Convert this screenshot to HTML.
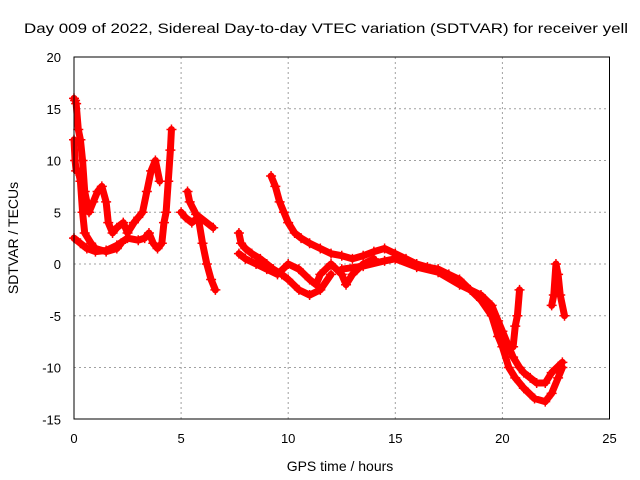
<!DOCTYPE html>
<html><head><meta charset="utf-8"><style>
html,body{margin:0;padding:0;background:#fff;}
svg{display:block;font-family:"Liberation Sans",sans-serif;}
</style></head><body>
<svg id="chart" width="640" height="480">
<rect width="640" height="480" fill="#fff"/>
<text x="24" y="33" font-size="14" textLength="604" lengthAdjust="spacingAndGlyphs">Day 009 of 2022, Sidereal Day-to-day VTEC variation (SDTVAR) for receiver yell</text>
<g id="grid"></g>
<g id="marks"></g>
<rect x="74" y="57" width="535.5" height="362" fill="none" stroke="#000" stroke-width="1"/>
<g id="ticks"></g>
<text x="340" y="471" font-size="14" text-anchor="middle">GPS time / hours</text>
<text transform="translate(18,238) rotate(-90)" font-size="14" text-anchor="middle">SDTVAR / TECUs</text>
</svg>
<script>
const xTicks=[0,5,10,15,20,25];
const yTicks=[20,15,10,5,0,-5,-10,-15];
const segT1=[0,0.05,0.1,0.2,0.3,0.4,0.5,0.7,0.9,1.1,1.3,1.5,1.6,1.8,2.0,2.3,2.5,2.8,3.0,3.2,3.4,3.6,3.8,4.0];
const segV1=[16,15.8,15.5,13,12,10,7,5,6,7,7.5,6,4,3,3.5,4,3,4,4.5,5,7,9,10,8];
const segT2=[0,0.05,0.1,0.2,0.3,0.4,0.5,0.8,1.0,1.5,2.0,2.2];
const segV2=[12,10,9,9,8,5,3,2,1.5,1.2,1.5,2];
const segT3=[0,0.3,0.6,1.0,1.5,2.0,2.5,3.0,3.3,3.5,3.7,3.9,4.1,4.2,4.3,4.4,4.5,4.55];
const segV3=[2.5,2,1.5,1.2,1.3,1.8,2.5,2.3,2.5,3,2,1.5,2,4,5,8,11,13];
const segT4=[5.0,5.2,5.5,5.8,6.0,6.2,6.4,6.6];
const segV4=[5,4.5,4,4.5,2,0,-1.5,-2.5];
const segT5=[5.3,5.4,5.7,6.5];
const segV5=[7,6,4.8,3.5];
const segT6=[7.7,7.8,8.0,8.3,8.7,9.0,9.3,9.7,10.0,10.5,11.0,11.5,12.0];
const segV6=[3,2,1.5,1,0.5,0,-0.5,-1,-1.5,-2.5,-3,-2.5,-1];
const segT7=[7.7,8.0,8.5,9.0,9.5,10.0,10.5,11.0,11.3,11.5,12.0,12.5,12.7,13.0,13.5,14.0];
const segV7=[1,0.5,0,-0.5,-1,0,-0.5,-1.5,-2,-1,0,-1,-2,-1,0,0.5];
const segT8=[9.2,9.4,9.6,9.8,10.0,10.3,10.6,11.0,11.5,12.0,12.5,13.0,13.5,14.0,14.5,15.0,15.5,16.0,16.5,17.0,17.5,18.0,18.5,19.0,19.5,19.8,20.0,20.3,20.6,21.0,21.5,22.0,22.3,22.6,22.8];
const segV8=[8.5,7.5,6,5,4,3,2.5,2,1.5,1,0.8,0.5,0.8,1.2,1.5,1,0.5,0,-0.3,-0.5,-1,-1.5,-2.5,-3.5,-5,-7,-8,-10,-11,-12,-13,-13.3,-12.5,-11,-10];
const segT9=[12.5,13.5,14.5,15.0,16.0,17.0,18.0,19.0,19.5,19.8,20.0,20.3,20.5,20.8,21.0,21.3,21.6,22.0,22.3,22.8];
const segV9=[-0.5,-0.2,0.3,0.5,-0.3,-0.8,-2,-3,-4,-5.5,-6.5,-8,-9,-10,-10.5,-11,-11.5,-11.5,-10.5,-9.5];
const segT10=[20.5,20.6,20.7,20.8];
const segV10=[-8,-6,-5,-2.5];
const segT11=[22.3,22.4,22.5,22.6,22.7,22.9];
const segV11=[-4,-3,0,-1,-3,-5];
const segs=[[segT1,segV1],[segT2,segV2],[segT3,segV3],[segT4,segV4],[segT5,segV5],[segT6,segV6],[segT7,segV7],[segT8,segV8],[segT9,segV9],[segT10,segV10],[segT11,segV11]];
const NS='http://www.w3.org/2000/svg';
const X=t=>74+t*21.42;
const Y=v=>264-v*10.35;
const grid=document.getElementById('grid'),ticks=document.getElementById('ticks'),marks=document.getElementById('marks');
function mk(tag,at,parent){const e=document.createElementNS(NS,tag);for(const k in at)e.setAttribute(k,at[k]);parent.appendChild(e);return e;}
xTicks.forEach(t=>{
 if(t>0&&t<25){const l=mk('line',{x1:X(t),x2:X(t),y1:57,y2:419,stroke:'#a0a0a0','stroke-dasharray':'2,3'},grid);
 
 }
 const tk=mk('text',{x:X(t),y:443,'font-size':13,'text-anchor':'middle'},ticks);tk.textContent=t;
 
 
});
yTicks.forEach(v=>{
 if(v<20&&v>-15){const l=mk('line',{x1:74,x2:609.5,y1:Y(v),y2:Y(v),stroke:'#a0a0a0','stroke-dasharray':'2,3'},grid);
 
 }
 const tk=mk('text',{x:61,y:Y(v)+5,'font-size':13,'text-anchor':'end'},ticks);tk.textContent=v;
 
 
});
segs.forEach(([ts,vs])=>{
 const pts=ts.map((t,i)=>X(t)+','+Y(vs[i])).join(' ');
 const pl=mk('polyline',{points:pts,fill:'none',stroke:'#f00','stroke-width':7,'stroke-linejoin':'round','stroke-linecap':'round'},marks);
 
 
 ts.forEach((t,i)=>{const x=X(t),y=Y(vs[i]);
  const p=mk('path',{d:`M${x-5},${y}h10M${x},${y-5}v10`,stroke:'#f00','stroke-width':1.5},marks);
  
  });
});
</script>
</body></html>
